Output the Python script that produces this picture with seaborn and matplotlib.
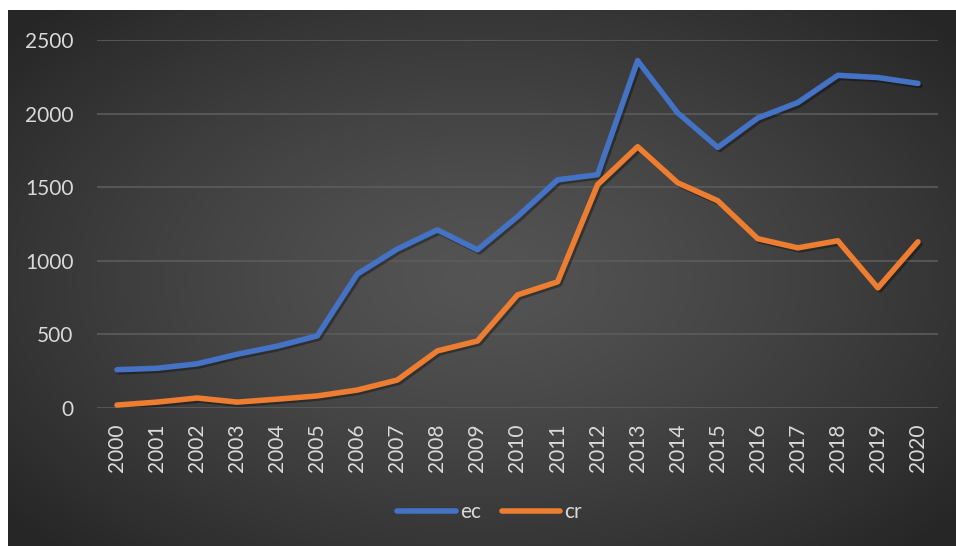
import numpy as np
import pandas as pd
import matplotlib
matplotlib.use("Agg")
import matplotlib.pyplot as plt
import matplotlib.patheffects as pe
import seaborn as sns

years = list(range(2000, 2021))
ec = [260, 270, 300, 365, 420, 490, 910, 1080, 1210, 1075, 1300, 1550, 1585,
      2360, 2005, 1770, 1970, 2075, 2260, 2245, 2205]
cr = [20, 40, 68, 40, 60, 82, 122, 190, 388, 455, 768, 857, 1517,
      1775, 1530, 1408, 1150, 1088, 1136, 816, 1129]
series_names = ["ec", "cr"]
series_colors = ["#4472C4", "#ED7D31"]
y_ticks = [0, 500, 1000, 1500, 2000, 2500]

df = pd.DataFrame({
    "year": years * 2,
    "value": ec + cr,
    "series": ["ec"] * len(years) + ["cr"] * len(years),
})

sns.set_theme(style="dark")
plt.rcParams["font.family"] = ["Lato", "DejaVu Sans"]
text_color = "#d9d9d9"

fig = plt.figure(figsize=(9.56, 5.46), dpi=100)
fig.patch.set_facecolor("white")

# radial gradient backdrop of the chart area
bg = fig.add_axes([8 / 956, 0, 948 / 956, 536 / 546])
gx, gy = np.meshgrid(np.linspace(-1, 1, 600), np.linspace(-1, 1, 340))
r = np.sqrt((gx * 0.95) ** 2 + (gy * 0.9) ** 2)
r = np.clip(r / 1.25, 0, 1)
shade = 0.33 - 0.18 * r ** 1.3
bg.imshow(np.dstack([shade] * 3), aspect="auto", extent=[0, 1, 0, 1],
          interpolation="bilinear")
bg.set_axis_off()

ax = fig.add_axes([97 / 956, 1 - 408 / 546, 841 / 956, 368 / 546])
ax.set_facecolor("none")

sns.lineplot(data=df, x="year", y="value", hue="series",
             hue_order=series_names, palette=series_colors,
             linewidth=4, ax=ax, legend=False)
for line in ax.lines:
    line.set_solid_capstyle("round")
    line.set_solid_joinstyle("round")
    line.set_path_effects([
        pe.SimpleLineShadow(offset=(1.5, -1.5), shadow_color="black", alpha=0.35),
        pe.Normal(),
    ])

ax.set_xlim(years[0] - 0.5, years[-1] + 0.5)
ax.set_ylim(0, 2500)
ax.set_xticks(years)
ax.set_xticklabels([str(y) for y in years], rotation=90)
ax.set_yticks(y_ticks)
ax.set_yticklabels([str(v) for v in y_ticks])
ax.tick_params(axis="x", length=0, pad=11, labelsize=15, labelcolor=text_color)
ax.tick_params(axis="y", length=0, pad=17, labelsize=15, labelcolor=text_color)
ax.grid(False)
for v in y_ticks:
    ax.axhline(v, color="#5c5c5c", linewidth=1.2, zorder=0)
for s in ax.spines.values():
    s.set_visible(False)
ax.set_xlabel("")
ax.set_ylabel("")

handles = [plt.Line2D([0], [0], color=c, linewidth=4, solid_capstyle="round")
           for c in series_colors]
leg = fig.legend(handles, series_names, loc="center", ncol=2,
                 bbox_to_anchor=(0.512, 1 - 512 / 546), frameon=False,
                 fontsize=15, handlelength=2.8, handletextpad=0.2,
                 columnspacing=1.0)
for t in leg.get_texts():
    t.set_color(text_color)

fig.savefig("out.png", dpi=100, facecolor=fig.get_facecolor())
